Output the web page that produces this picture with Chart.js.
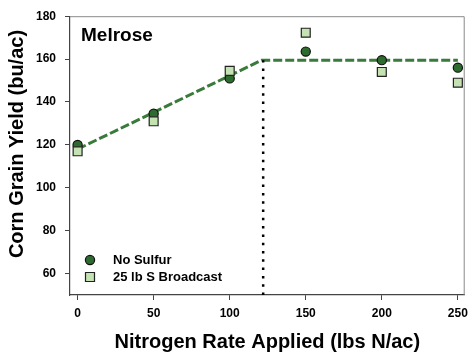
<!DOCTYPE html>
<html>
<head>
<meta charset="utf-8">
<script src="https://cdn.jsdelivr.net/npm/chart.js@4/dist/chart.umd.min.js"></script>
<style>
  html, body { margin: 0; padding: 0; background: #ffffff; }
  #wrap { width: 474px; height: 352px; position: relative; }
</style>
</head>
<body>
<div id="wrap"><canvas id="c" width="474" height="352"></canvas></div>
<script>
// ---- data ----
const nitrogenRates = [0, 50, 100, 150, 200, 250];
const noSulfur      = [120, 134.5, 151, 163.5, 159.5, 156];
const sulfur25      = [117, 131, 154.5, 172.3, 154, 149];
const fitX          = [0, 121, 250];
const fitY          = [118, 159.5, 159.5];
const joinX         = [122, 122];
const joinY         = [50, 159.5];
const xTicks        = [0, 50, 100, 150, 200, 250];
const yTicks        = [60, 80, 100, 120, 140, 160, 180];
const seriesNames   = ['No Sulfur', '25 lb S Broadcast'];
const siteName      = 'Melrose';
const xTitle        = 'Nitrogen Rate Applied (lbs N/ac)';
const yTitle        = 'Corn Grain Yield (bu/ac)';

const pts = (xs, ys) => xs.map((x, i) => ({ x: x, y: ys[i] }));
const FONT = '"Liberation Sans", Arial, sans-serif';

const extras = {
  id: 'extras',
  beforeDatasetsDraw(chart) {
    const { ctx, chartArea: a } = chart;
    ctx.save();
    ctx.strokeStyle = '#8a8a8a';
    ctx.lineWidth = 1;
    ctx.beginPath();
    ctx.moveTo(a.left, a.top + 0.5);
    ctx.lineTo(a.right - 0.5, a.top + 0.5);
    ctx.lineTo(a.right - 0.5, a.bottom);
    ctx.stroke();
    ctx.restore();
  },
  afterDraw(chart) {
    const { ctx, chartArea: a } = chart;
    ctx.save();
    ctx.fillStyle = '#000';
    // site label
    ctx.font = 'bold 19px ' + FONT;
    ctx.textAlign = 'left';
    ctx.textBaseline = 'middle';
    ctx.fillText(siteName, 81, 36);
    // axis titles
    ctx.font = 'bold 20px ' + FONT;
    ctx.textAlign = 'center';
    ctx.fillText(xTitle, (a.left + a.right) / 2, 342);
    ctx.translate(17, 144);
    ctx.rotate(-Math.PI / 2);
    ctx.fillText(yTitle, 0, 0);
    ctx.restore();
    // legend
    ctx.save();
    const ds = chart.data.datasets;
    const items = [ds[2], ds[3]];
    const rows = [260, 277];
    items.forEach((d, i) => {
      const y = rows[i];
      ctx.fillStyle = d.pointBackgroundColor;
      ctx.strokeStyle = d.pointBorderColor;
      ctx.lineWidth = 1.2;
      ctx.beginPath();
      if (d.pointStyle === 'circle') {
        ctx.arc(90, y, 4.6, 0, Math.PI * 2);
      } else {
        ctx.rect(85.5, y - 4.5, 9, 9);
      }
      ctx.fill();
      ctx.stroke();
      ctx.fillStyle = '#000';
      ctx.font = 'bold 13px ' + FONT;
      ctx.textAlign = 'left';
      ctx.textBaseline = 'middle';
      ctx.fillText(d.label, 113, y + 0.5);
    });
    ctx.restore();
  }
};

new Chart(document.getElementById('c'), {
  type: 'scatter',
  data: {
    datasets: [
      {
        label: 'fit',
        data: pts(fitX, fitY),
        showLine: true,
        borderColor: '#3a7a3a',
        borderWidth: 3,
        borderDash: [9, 3],
        pointRadius: 0,
        order: 4
      },
      {
        label: 'join',
        data: pts(joinX, joinY),
        showLine: true,
        borderColor: '#000',
        borderWidth: 2.5,
        borderDash: [2.5, 5.8],
        pointRadius: 0,
        order: 3
      },
      {
        label: seriesNames[0],
        data: pts(nitrogenRates, noSulfur),
        pointStyle: 'circle',
        pointRadius: 4.6,
        pointBackgroundColor: '#2e6b2f',
        pointBorderColor: '#111',
        pointBorderWidth: 1.2,
        order: 2
      },
      {
        label: seriesNames[1],
        data: pts(nitrogenRates, sulfur25),
        pointStyle: 'rect',
        pointRadius: 6.3,
        pointBackgroundColor: '#c5e2b3',
        pointBorderColor: '#222',
        pointBorderWidth: 1.2,
        order: 1
      }
    ]
  },
  options: {
    responsive: false,
    animation: false,
    devicePixelRatio: 1,
    layout: { padding: { top: 16, right: 5, left: 0, bottom: 0 } },
    plugins: { legend: { display: false }, tooltip: { enabled: false } },
    scales: {
      x: {
        type: 'linear',
        min: -5,
        max: 254.5,
        afterFit(s) { s.height = 57; },
        afterBuildTicks(s) { s.ticks = xTicks.map(v => ({ value: v })); },
        grid: { drawOnChartArea: false, drawTicks: true, tickLength: 5, color: '#444' },
        border: { color: '#444', width: 1.2 },
        ticks: { color: '#000', padding: 6, maxRotation: 0, font: { family: FONT, size: 12, weight: 'bold' } }
      },
      y: {
        type: 'linear',
        min: 50,
        max: 180,
        afterFit(s) { s.width = 70; },
        afterBuildTicks(s) { s.ticks = yTicks.map(v => ({ value: v })); },
        grid: { drawOnChartArea: false, drawTicks: true, tickLength: 5, color: '#444' },
        border: { color: '#444', width: 1.2 },
        ticks: { color: '#000', padding: 9, font: { family: FONT, size: 12, weight: 'bold' } }
      }
    }
  },
  plugins: [extras]
});
</script>
</body>
</html>
